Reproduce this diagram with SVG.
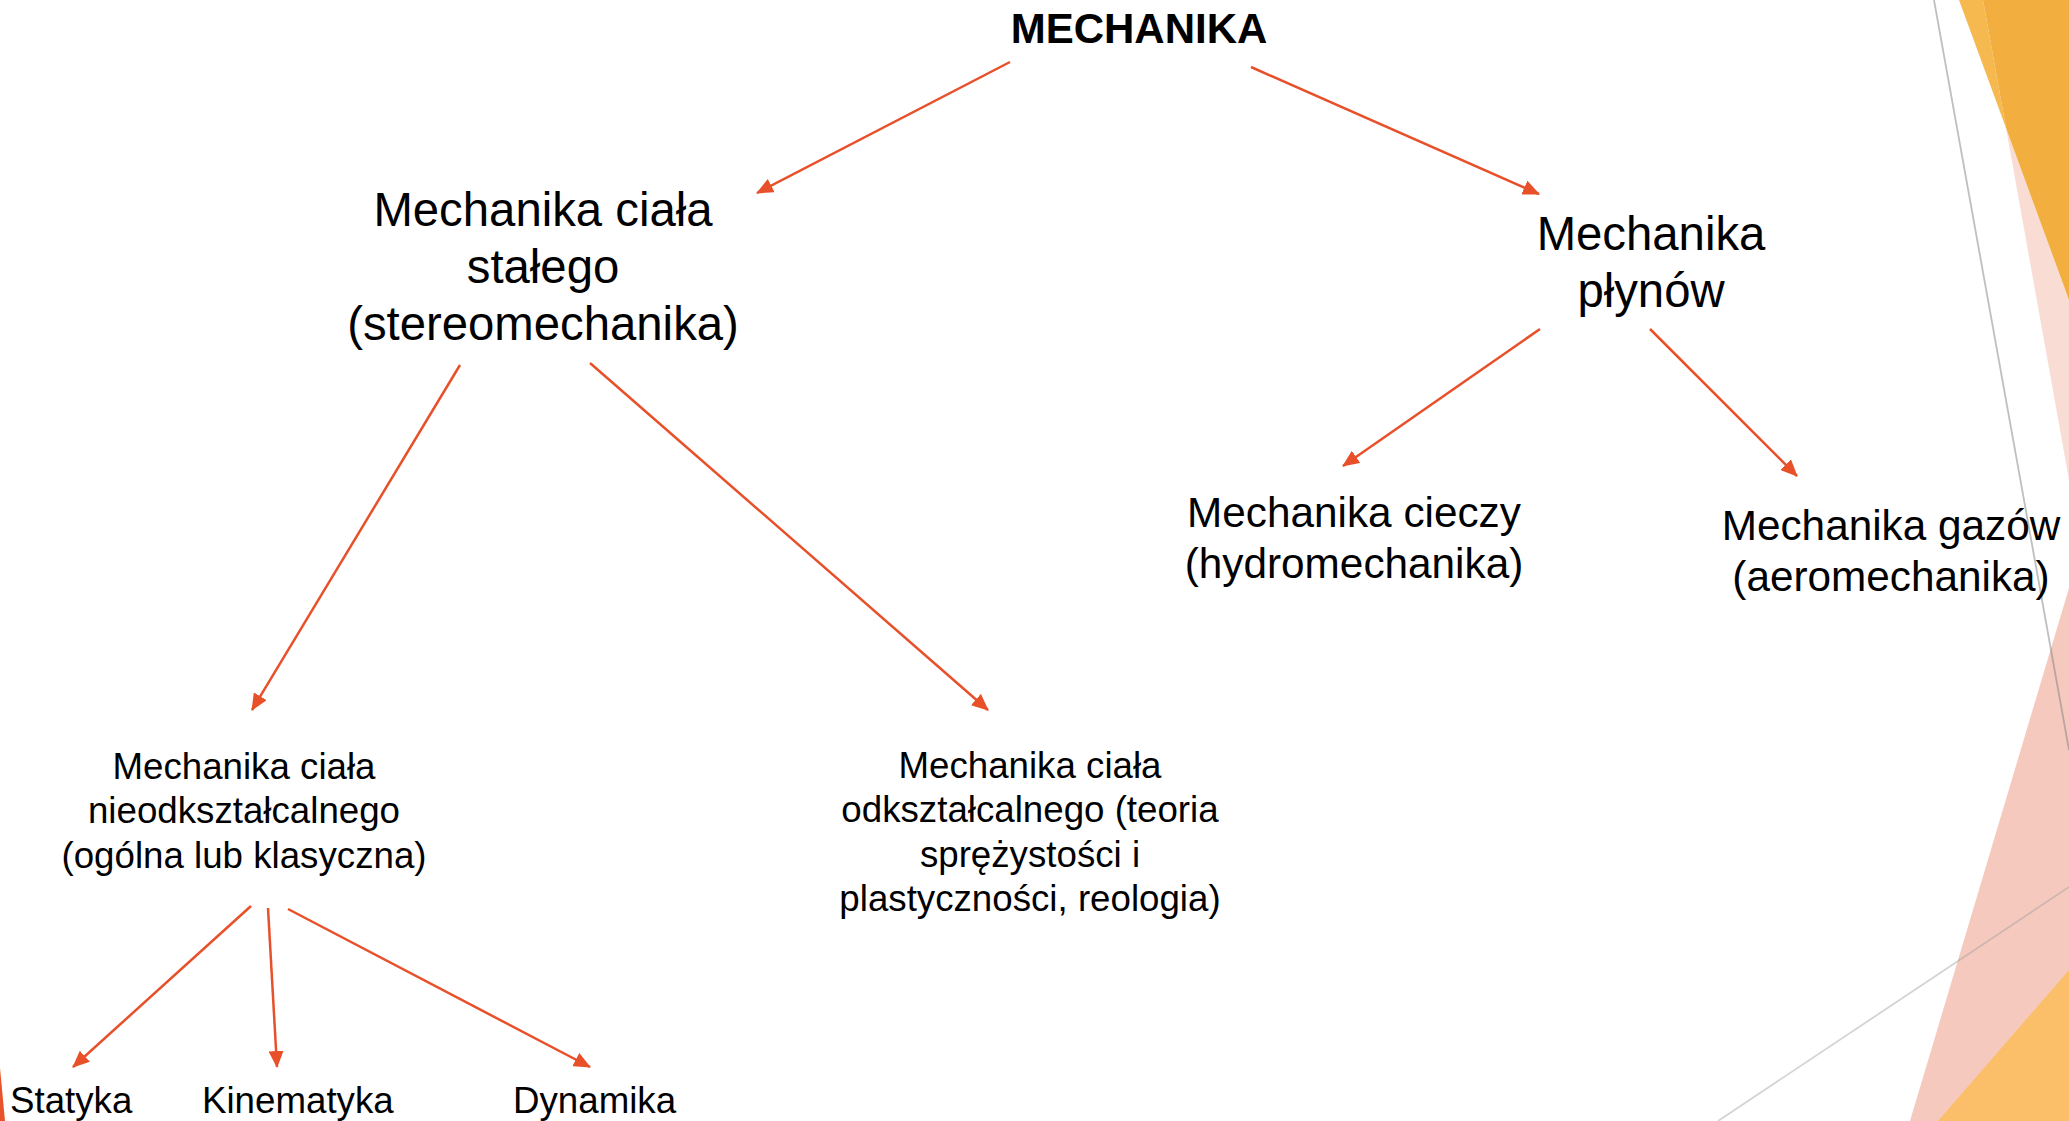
<svg xmlns="http://www.w3.org/2000/svg" width="2069" height="1121" viewBox="0 0 2069 1121">
<style>
text{font-family:"Liberation Sans",Arial,sans-serif;fill:#000}
.t{font-weight:bold;font-size:42px}
.l1{font-size:47.3px}
.l2{font-size:42.3px}
.l3{font-size:36.7px}
.c{text-anchor:middle}
.conn line{stroke:#E8502A;stroke-width:2.5;fill:none;marker-end:url(#ah)}
</style>
<defs>
<marker id="ah" markerUnits="userSpaceOnUse" markerWidth="17" markerHeight="15" viewBox="0 0 17 15" refX="16" refY="7.5" orient="auto">
<path d="M0,0 L17,7.5 L0,15 z" fill="#E8502A"/>
</marker>
</defs>
<rect width="2069" height="1121" fill="#fff"/>
<g id="background">
<polygon points="2006,128 2069,300 2069,480" fill="#F9DCD3"/>
<polygon points="1959,0 1983,0 2006,128" fill="#F5B94F"/>
<polygon points="1983,0 2069,0 2069,300 2006,128" fill="#F2AF3F"/>
<polygon points="2069,588 1910,1121 2069,1121" fill="#F6C9BE"/>
<polygon points="2069,970 1938,1121 2069,1121" fill="#FBBF69"/>
<line x1="1934" y1="0" x2="2069" y2="750" stroke="#808080" stroke-opacity="0.5" stroke-width="1.8"/>
<line x1="1718" y1="1121" x2="2069" y2="887" stroke="#A0A0A0" stroke-opacity="0.45" stroke-width="1.8"/>
<polygon points="0,1068 5,1121 0,1121" fill="#E8532B"/>
</g>
<g class="conn" id="connectors">
<line x1="1010" y1="62" x2="757" y2="193"/>
<line x1="1251" y1="67" x2="1539" y2="194"/>
<line x1="460" y1="365" x2="252" y2="710"/>
<line x1="590" y1="363" x2="988" y2="710"/>
<line x1="1540" y1="329" x2="1343" y2="466"/>
<line x1="1650" y1="329" x2="1797" y2="476"/>
<line x1="251" y1="906" x2="73" y2="1067"/>
<line x1="268" y1="908" x2="277" y2="1067"/>
<line x1="288" y1="909" x2="590" y2="1067"/>
</g>
<g id="mechanika"><text class="t c" x="1139" y="43">MECHANIKA</text></g>
<g id="cialo-stale"><text class="l1 c" x="543" y="226">Mechanika ciała</text><text class="l1 c" x="543" y="283">stałego</text><text class="l1 c" x="543" y="340">(stereomechanika)</text></g>
<g id="plyny"><text class="l1 c" x="1651" y="250">Mechanika</text><text class="l1 c" x="1651" y="307">płynów</text></g>
<g id="ciecze"><text class="l2 c" x="1354" y="527">Mechanika cieczy</text><text class="l2 c" x="1354" y="578">(hydromechanika)</text></g>
<g id="gazy"><text class="l2 c" x="1891" y="540">Mechanika gazów</text><text class="l2 c" x="1891" y="591">(aeromechanika)</text></g>
<g id="nieodksztalcalne"><text class="l3 c" x="244" y="779">Mechanika ciała</text><text class="l3 c" x="244" y="823">nieodkształcalnego</text><text class="l3 c" x="244" y="868">(ogólna lub klasyczna)</text></g>
<g id="odksztalcalne"><text class="l3 c" x="1030" y="778">Mechanika ciała</text><text class="l3 c" x="1030" y="822">odkształcalnego (teoria</text><text class="l3 c" x="1030" y="867">sprężystości i</text><text class="l3 c" x="1030" y="911">plastyczności, reologia)</text></g>
<g id="statyka"><text class="l3" x="10" y="1113">Statyka</text></g>
<g id="kinematyka"><text class="l3" x="202" y="1113">Kinematyka</text></g>
<g id="dynamika"><text class="l3" x="513" y="1113">Dynamika</text></g>
</svg>
